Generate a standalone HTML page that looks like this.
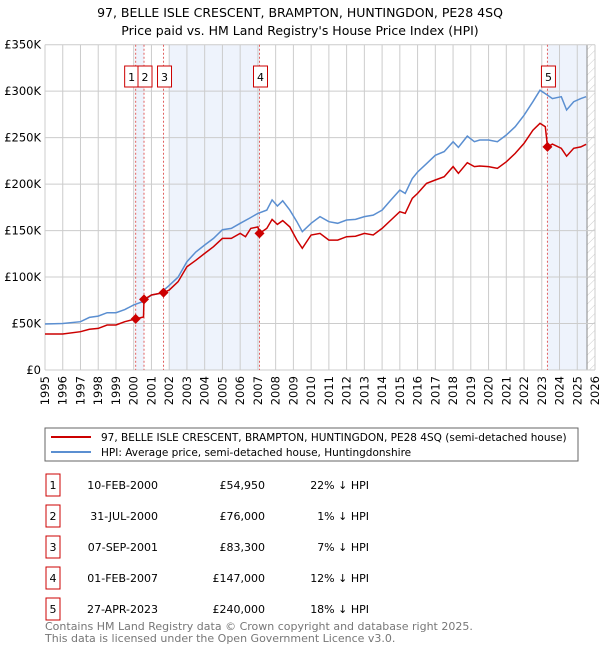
<!DOCTYPE html>
<html><head><meta charset="utf-8"><style>
body{margin:0;width:600px;height:650px;background:#fff;font-family:"Liberation Sans","DejaVu Sans",sans-serif;overflow:hidden}
svg text{font-family:"DejaVu Sans","Liberation Sans",sans-serif}
</style></head><body>
<svg id="chart" width="600" height="650" viewBox="0 0 600 650">
<defs><pattern id="hatch" width="6" height="6" patternUnits="userSpaceOnUse" patternTransform="rotate(45)"><line x1="0" y1="0" x2="0" y2="6" stroke="#ccc" stroke-width="1"/></pattern></defs>
<text x="300" y="17" text-anchor="middle" font-size="12.5" fill="#000">97, BELLE ISLE CRESCENT, BRAMPTON, HUNTINGDON, PE28 4SQ</text>
<text x="300" y="35" text-anchor="middle" font-size="12.5" fill="#000">Price paid vs. HM Land Registry's House Price Index (HPI)</text>
<g id="bg"></g><g id="grid"></g><g id="axes"></g><g id="series"></g><g id="marks"></g>
<rect x="45" y="428" width="533" height="33" fill="#fff" stroke="#666"/>
<line x1="51" y1="437" x2="91" y2="437" stroke="#cc0000" stroke-width="2"/>
<text x="101" y="441" font-size="10.5">97, BELLE ISLE CRESCENT, BRAMPTON, HUNTINGDON, PE28 4SQ (semi-detached house)</text>
<line x1="51" y1="452" x2="91" y2="452" stroke="#5b8fd1" stroke-width="2"/>
<text x="101" y="456" font-size="10.5">HPI: Average price, semi-detached house, Huntingdonshire</text>
<g id="table"></g>
<text x="45" y="630" font-size="11" fill="#777">Contains HM Land Registry data © Crown copyright and database right 2025.</text>
<text x="45" y="642" font-size="11" fill="#777">This data is licensed under the Open Government Licence v3.0.</text>
</svg>
<script>
const hpiYears=[1995,1996,1997,1997.5,1998,1998.5,1999,1999.5,2000,2000.5,2001,2001.5,2002,2002.5,2003,2003.5,2004,2004.5,2005,2005.5,2006,2006.5,2007,2007.5,2007.8,2008.1,2008.4,2008.8,2009.2,2009.5,2010,2010.5,2011,2011.5,2012,2012.5,2013,2013.5,2014,2014.5,2015,2015.3,2015.7,2016,2016.5,2017,2017.5,2018,2018.3,2018.8,2019.2,2019.5,2020,2020.5,2021,2021.5,2022,2022.5,2022.9,2023.3,2023.6,2024.1,2024.4,2024.8,2025.2,2025.5];
const hpiValues=[49.5,50,52,56.6,58,61.7,61.7,65,70,73.5,80.7,82.5,91,100,116.5,127,134.5,141.6,151,152.4,157.8,163,168.5,172,183,176.4,182,172,159.6,148.8,157.8,165,159.6,157.8,161.4,162,165,166.7,172,183,193.6,190,206,213,222,231,235,245.6,239.5,251.7,245.6,247.5,247.5,245.6,252.8,261.8,274,288.7,301,296,292,294,279.7,288.7,292,294];
const propYears=[1995,1996,1997,1997.5,1998,1998.5,1999,1999.5,2000.11,2000.55,2000.58,2001,2001.68,2002,2002.5,2003,2003.5,2004,2004.5,2005,2005.5,2006,2006.3,2006.6,2007.0,2007.09,2007.5,2007.8,2008.1,2008.4,2008.8,2009.2,2009.5,2010,2010.5,2011,2011.5,2012,2012.5,2013,2013.5,2014,2014.5,2015,2015.3,2015.7,2016,2016.5,2017,2017.5,2018,2018.3,2018.8,2019.2,2019.5,2020,2020.5,2021,2021.5,2022,2022.5,2022.9,2023.2,2023.32,2023.6,2024.1,2024.4,2024.8,2025.2,2025.5];
const propValues=[38.7,38.7,41.2,43.8,44.8,48.4,48.4,52,54.95,57,76,80.7,83.3,86,95,111,118,125.5,132.7,141.6,141.6,147,143.4,152.4,154,147,152.4,162,156.7,160.7,154,139.8,130.9,145.2,147,139.8,139.8,143.4,144,147,145.2,152.4,161.4,170.3,168.5,184.7,190,200.8,204.4,208,218.8,211.6,223,218.8,219.5,218.8,217,224,233,243.8,258,265.4,261.8,240,243,238.5,230,238.5,240,242.8];
const saleLabels=["1","2","3","4","5"];
const saleDates=[2000.11,2000.58,2001.68,2007.09,2023.32];
const salePrices=[54.95,76,83.3,147,240];
const saleDateText=["10-FEB-2000","31-JUL-2000","07-SEP-2001","01-FEB-2007","27-APR-2023"];
const salePriceText=["£54,950","£76,000","£83,300","£147,000","£240,000"];
const salePctText=["22% ↓ HPI","1% ↓ HPI","7% ↓ HPI","12% ↓ HPI","18% ↓ HPI"];
const yTicks=[0,50,100,150,200,250,300,350];
const yTickLabels=["£0","£50K","£100K","£150K","£200K","£250K","£300K","£350K"];
const xTicks=[1995,1996,1997,1998,1999,2000,2001,2002,2003,2004,2005,2006,2007,2008,2009,2010,2011,2012,2013,2014,2015,2016,2017,2018,2019,2020,2021,2022,2023,2024,2025,2026];

const X0=45,X1=595,Y0=370,Y1=44.7;
const xs=y=>X0+(y-1995)/(2026-1995)*(X1-X0);
const ys=v=>Y0-v/350*(Y0-Y1);
const NS="http://www.w3.org/2000/svg";
function mk(tag,attrs,parent,txt){const e=document.createElementNS(NS,tag);for(const k in attrs)e.setAttribute(k,attrs[k]);if(txt!==undefined)e.textContent=txt;document.getElementById(parent).appendChild(e);return e;}
let e;
e=mk('rect',{x:xs(saleDates[0]),y:Y1,width:xs(saleDates[1])-xs(saleDates[0]),height:Y0-Y1,fill:'#eef3fc'},'bg');


e=mk('rect',{x:xs(2002),y:Y1,width:xs(saleDates[3])-xs(2002),height:Y0-Y1,fill:'#eef3fc'},'bg');


e=mk('rect',{x:xs(saleDates[4]),y:Y1,width:xs(2025.55)-xs(saleDates[4]),height:Y0-Y1,fill:'#eef3fc'},'bg');


e=mk('rect',{x:xs(2025.55),y:Y1,width:X1-xs(2025.55),height:Y0-Y1,fill:'url(#hatch)'},'bg');


mk('line',{x1:xs(2025.55),y1:Y1,x2:xs(2025.55),y2:Y0,stroke:'#888','stroke-width':1},'bg');
yTicks.forEach((t,i)=>{
 e=mk('line',{x1:X0,y1:ys(t),x2:X1,y2:ys(t),stroke:'#ccc','stroke-width':1},'grid');
 
 
 e=mk('text',{x:X0-4,y:ys(t)+4,'text-anchor':'end','font-size':11.5},'axes',yTickLabels[i]);
 
 
});
xTicks.forEach(t=>{
 e=mk('line',{x1:xs(t),y1:Y1,x2:xs(t),y2:Y0,stroke:'#ccc','stroke-width':1},'grid');
 
 
 e=mk('text',{x:0,y:0,'text-anchor':'end','font-size':11.5,transform:`translate(${xs(t)+4},${Y0+6}) rotate(-90)`},'axes',String(t));
 
 
});
saleDates.forEach((d,i)=>{
 e=mk('line',{x1:xs(d),y1:Y1,x2:xs(d),y2:Y0,stroke:'#e06060','stroke-width':1,'stroke-dasharray':'2,2'},'grid');
 
 
});
function path(xa,va){return xa.map((x,i)=>(i?'L':'M')+xs(x).toFixed(1)+','+ys(va[i]).toFixed(1)).join('');}
e=mk('path',{d:path(hpiYears,hpiValues),fill:'none',stroke:'#5b8fd1','stroke-width':1.5},'series');


e=mk('path',{d:path(propYears,propValues),fill:'none',stroke:'#cc0000','stroke-width':1.5},'series');


saleDates.forEach((d,i)=>{
 const cx=xs(d),cy=ys(salePrices[i]);
 e=mk('path',{d:`M${cx},${cy-5}L${cx+5},${cy}L${cx},${cy+5}L${cx-5},${cy}Z`,fill:'#cc0000'},'marks');
 
 
 const bx=i===0?cx-11:cx-6;
 e=mk('rect',{x:bx,y:66,width:14,height:21,fill:'#fff',stroke:'#cc0000'},'marks');
 
 
 e=mk('text',{x:bx+7,y:81,'text-anchor':'middle','font-size':11},'marks',saleLabels[i]);
 
 
});
saleLabels.forEach((l,i)=>{
 const y=485+i*31;
 e=mk('rect',{x:46,y:y-11,width:14,height:22,fill:'#fff',stroke:'#cc0000'},'table');
 
 
 e=mk('text',{x:53,y:y+4,'text-anchor':'middle','font-size':11},'table',l);
 
 
 e=mk('text',{x:158,y:y+4,'text-anchor':'end','font-size':11},'table',saleDateText[i]);
 
 
 e=mk('text',{x:265,y:y+4,'text-anchor':'end','font-size':11},'table',salePriceText[i]);
 
 
 e=mk('text',{x:369,y:y+4,'text-anchor':'end','font-size':11},'table',salePctText[i]);
 
 
});
</script>
</body></html>
